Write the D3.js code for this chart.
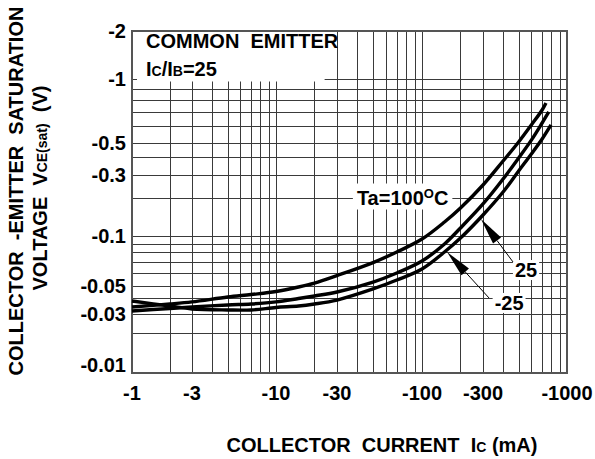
<!DOCTYPE html>
<html><head><meta charset="utf-8">
<script src="https://cdn.jsdelivr.net/npm/d3@7/dist/d3.min.js"></script>
<style>
body{margin:0;background:#fff;}
svg text{font-family:"Liberation Sans",Arial,Helvetica,sans-serif;font-weight:bold;fill:#000;}
</style></head><body>
<svg id="chart" width="595" height="459"></svg>
<script>
// ---- data ----
const xTicks = [1, 3, 10, 30, 100, 300, 1000];
const xTickLabels = ["-1", "-3", "-10", "-30", "-100", "-300", "-1000"];
const yTicks = [2, 1, 0.5, 0.3, 0.1, 0.05, 0.03, 0.01];
const yTickLabels = ["-2", "-1", "-0.5", "-0.3", "-0.1", "-0.05", "-0.03", "-0.01"];
const xGrid = [2,3,4,5,6,7,8,9,10,20,30,40,50,60,70,80,90,100,200,300,400,500,600,700,800,900];
const yGrid = [1,0.9,0.8,0.7,0.6,0.5,0.4,0.3,0.2,0.1,0.09,0.08,0.07,0.06,0.05,0.04,0.03,0.02];

// collector current |Ic| (mA) and |VCE(sat)| (V)
const ic100 = [1,2,3,5,7,10,15,20,30,50,70,100,150,200,300,400,500,600,700,740];
const vce100 = [0.0341,0.036,0.0374,0.0409,0.0428,0.0452,0.0491,0.0521,0.0578,0.0692,0.0801,0.0959,0.1287,0.1656,0.2505,0.375,0.5055,0.608,0.715,0.771];
const ic25 = [1,2,3,5,7,10,15,20,30,50,70,100,150,200,300,400,500,600,700,770];
const vce25 = [0.0317,0.0332,0.0341,0.0354,0.036,0.0374,0.0398,0.0417,0.0448,0.0528,0.0599,0.0707,0.0895,0.1155,0.178,0.279,0.394,0.516,0.621,0.70];
const icM25 = [1,2,3,5,7,10,15,20,30,50,70,100,150,200,300,400,500,600,700,795];
const vceM25 = [0.038,0.0347,0.0329,0.0323,0.0323,0.0338,0.0347,0.036,0.0387,0.0474,0.0543,0.0633,0.0801,0.0972,0.146,0.2208,0.32,0.4196,0.522,0.608];

// annotations (data coordinates)
const tempLabel = {text: "Ta=100", ic: 76, v: 0.2};
const arrow25 = {label: "25", tipIc: 289, tipV: 0.136, tailIc: 461, tailV: 0.0698, labIc: 556, labV: 0.0624};
const arrowM25 = {label: "-25", tipIc: 157, tipV: 0.0801, tailIc: 327, tailV: 0.0402, labIc: 436, labV: 0.0367};

// ---- layout ----
const svg = d3.select("#chart");
const plotBottom = 373;
const x = d3.scaleLog().domain(xTicks).range([132, 192, 276, 337, 422, 483, 567]);
const y = d3.scaleLog().domain(yTicks).range([31, 79, 143, 175, 236, 286, 314, 365]);
const pLeft = x(1), pRight = x(1000), pTop = y(2);

// grid
const g = svg.append("g").attr("shape-rendering", "crispEdges");
g.selectAll("line.vx").data(xGrid).join("line")
  .attr("x1", d => Math.round(x(d)) + 0.5).attr("x2", d => Math.round(x(d)) + 0.5)
  .attr("y1", pTop).attr("y2", plotBottom)
  .attr("stroke", "#3a3a3a").attr("stroke-width", 1);
g.selectAll("line.hy").data(yGrid).join("line")
  .attr("x1", pLeft).attr("x2", pRight)
  .attr("y1", d => Math.round(y(d)) + 0.5).attr("y2", d => Math.round(y(d)) + 0.5)
  .attr("stroke", "#3a3a3a").attr("stroke-width", 1);
// frame
g.append("rect").attr("x", pLeft).attr("y", pTop).attr("width", pRight - pLeft).attr("height", plotBottom - pTop)
  .attr("fill", "none").attr("stroke", "#555").attr("stroke-width", 1.5);

// curves
const line = d3.line().x(d => x(d[0])).y(d => y(d[1])).curve(d3.curveCatmullRom.alpha(0.5));
const series = [[ic100, vce100], [ic25, vce25], [icM25, vceM25]];
svg.append("g").selectAll("path").data(series).join("path")
  .attr("d", s => line(s[0].map((v, i) => [v, s[1][i]])))
  .attr("fill", "none").attr("stroke", "#000").attr("stroke-width", 3.4)
  .attr("stroke-linejoin", "round");

// white box for condition text (covers grid)
svg.append("rect").attr("x", pLeft + 5).attr("y", pTop + 1).attr("width", x(24) - pLeft - 5).attr("height", y(1) - pTop + 1.5).attr("fill", "#fff");

// condition text
svg.append("text").attr("x", 146).attr("y", 48).attr("font-size", 20).style("white-space", "pre").text("COMMON  EMITTER");
const ct = svg.append("text").attr("x", 146).attr("y", 76).attr("font-size", 20);
ct.append("tspan").text("I");
ct.append("tspan").attr("font-size", 14).text("C");
ct.append("tspan").text("/I");
ct.append("tspan").attr("font-size", 14).text("B");
ct.append("tspan").text("=25");

// Ta label with white background
const tl = svg.append("text").attr("x", x(tempLabel.ic)).attr("y", y(tempLabel.v)).attr("dy", "0.35em")
  .attr("text-anchor", "middle").attr("font-size", 20);
tl.append("tspan").text(tempLabel.text);
tl.append("tspan").attr("font-size", 13).attr("dy", -7).text("O");
tl.append("tspan").attr("dy", 7).text("C");
const tb = tl.node().getBBox();
svg.insert("rect", "text").attr("x", tb.x - 4).attr("y", tb.y - 2).attr("width", tb.width + 8).attr("height", tb.height + 3).attr("fill", "#fff");

// arrows
function arrow(a) {
  const tx = x(a.tipIc), ty = y(a.tipV), ex = x(a.tailIc), ey = y(a.tailV);
  const dx = ex - tx, dy = ey - ty, len = Math.hypot(dx, dy), ux = dx / len, uy = dy / len;
  const L = 27, hw = 5;
  const bx = tx + ux * L, by = ty + uy * L;
  svg.append("line").attr("x1", bx).attr("y1", by).attr("x2", ex).attr("y2", ey).attr("stroke", "#000").attr("stroke-width", 1);
  svg.append("path").attr("d", `M${tx},${ty}L${bx - uy * hw},${by + ux * hw}L${bx + uy * hw},${by - ux * hw}Z`).attr("fill", "#000");
  const t = svg.append("text").attr("x", x(a.labIc)).attr("y", y(a.labV)).attr("dy", "0.35em")
    .attr("text-anchor", "middle").attr("font-size", 20).text(a.label);
  const b = t.node().getBBox();
  svg.insert("rect", "text").attr("x", b.x - 2).attr("y", b.y + 1).attr("width", b.width + 4).attr("height", b.height - 2).attr("fill", "#fff");
}
arrow(arrow25);
arrow(arrowM25);

// axis tick labels
svg.append("g").selectAll("text").data(yTicks).join("text")
  .attr("x", 126).attr("y", d => y(d)).attr("dy", "0.35em").attr("text-anchor", "end").attr("font-size", 20)
  .text((d, i) => yTickLabels[i]);
svg.append("g").selectAll("text").data(xTicks).join("text")
  .attr("x", d => x(d)).attr("y", 400).attr("text-anchor", "middle").attr("font-size", 20)
  .text((d, i) => xTickLabels[i]);

// axis titles
const xt = svg.append("text").attr("x", 382).attr("y", 452).attr("text-anchor", "middle").attr("font-size", 20).style("white-space", "pre");
xt.append("tspan").text("COLLECTOR  CURRENT  I");
xt.append("tspan").attr("font-size", 14).text("C");
xt.append("tspan").text(" (mA)");

svg.append("text").attr("transform", "translate(23,191) rotate(-90)").attr("text-anchor", "middle").attr("font-size", 20)
  .style("white-space", "pre").text("COLLECTOR  -EMITTER  SATURATION");
const yt2 = svg.append("text").attr("transform", "translate(47,188) rotate(-90)").attr("text-anchor", "middle").attr("font-size", 20).style("white-space", "pre");
yt2.append("tspan").text("VOLTAGE  V");
yt2.append("tspan").attr("font-size", 14).text("CE(sat)");
yt2.append("tspan").text("  (V)");
</script>
</body></html>
